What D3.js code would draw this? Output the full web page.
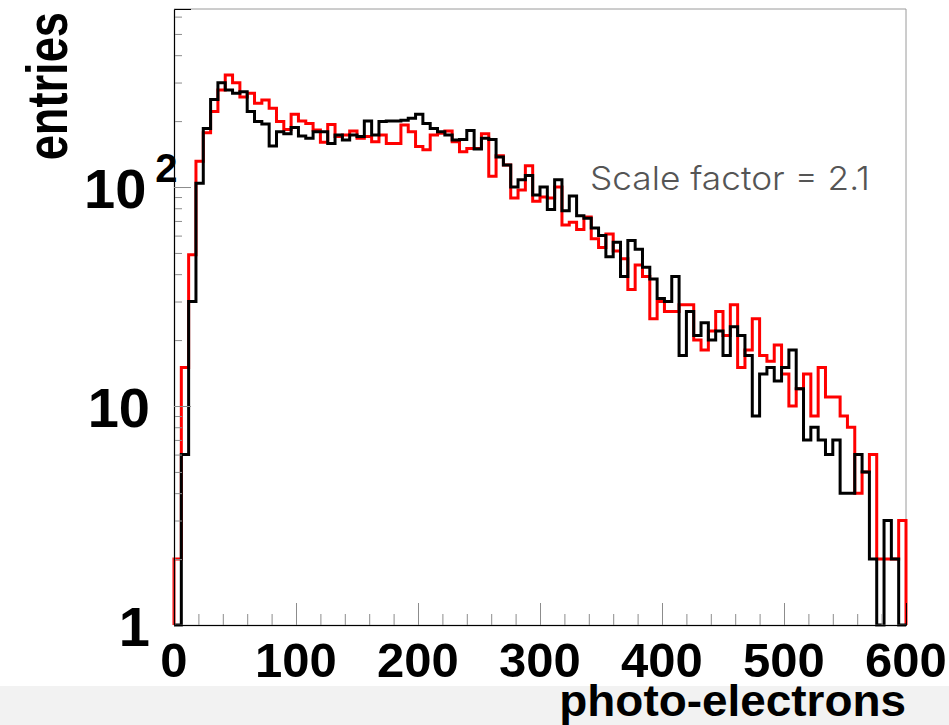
<!DOCTYPE html>
<html>
<head>
<meta charset="utf-8">
<script src="https://cdn.jsdelivr.net/npm/d3@7"></script>
<style>
  body { margin: 0; background: #fff; }
  svg { display: block; }
  .lbl { font-family: "Liberation Sans", Arial, Helvetica, sans-serif; font-weight: bold; fill: #000; }
</style>
</head>
<body>
<svg></svg>
<script>
// photo-electron spectrum, 100 bins of 6 p.e. from 0 to 600
const binEdges = d3.range(0, 601, 6);

// red histogram (scaled by 2.1)
const redCounts = [
  2, 15, 49, 131, 177, 221, 277, 325, 299, 258,
  268, 241, 250, 229, 199, 183, 215, 200, 195, 182,
  160, 193, 170, 173, 180, 167, 170, 161, 173, 158,
  158, 192, 179, 153, 148, 173, 176, 180, 161, 145,
  150, 150, 175, 112, 139, 126, 89, 97, 125, 86,
  90, 89, 100, 67, 69, 64, 73, 58, 53, 61,
  51, 47, 34, 44, 39, 25, 30, 27, 27, 29,
  29, 20, 18, 22, 27, 21, 29, 15, 18, 25,
  17, 16, 19, 14, 10, 12, 14, 9, 15, 11,
  11, 9, 8, 4, 5, 6, 2, 2, 2, 3
];

// black histogram
const blackCounts = [
  0, 6, 30, 104, 185, 251, 299, 277, 268, 272,
  221, 199, 194, 154, 179, 175, 187, 171, 167, 179,
  179, 158, 173, 164, 173, 170, 200, 173, 199, 200,
  200, 202, 206, 215, 195, 185, 179, 173, 164, 165,
  181, 149, 167, 165, 137, 126, 100, 108, 113, 92,
  100, 79, 108, 78, 91, 74, 72, 65, 60, 48,
  56, 39, 57, 52, 43, 38, 31, 30, 39, 17,
  27, 21, 24, 20, 22, 17, 23, 21, 17, 9,
  14, 15, 13, 15, 18, 12, 7, 8, 7, 6,
  7, 4, 4, 6, 5, 2, 0, 3, 2, 0
];

const xMajor = [0, 100, 200, 300, 400, 500, 600];
const xMinor = d3.range(20, 600, 20).filter(v => v % 100 !== 0);
const yMajor = [1, 10, 100];
const yMinor = [2, 3, 4, 5, 6, 7, 8, 9, 20, 30, 40, 50, 60, 70, 80, 90, 200, 300, 400, 500, 600];

const width = 949;
const height = 725;

const svg = d3.select("svg")
    .attr("width", width)
    .attr("height", height);

// light band at the bottom of the canvas
svg.append("rect")
    .attr("x", 0).attr("y", 686)
    .attr("width", width).attr("height", height - 686)
    .attr("fill", "#f2f2f2");

const x = d3.scaleLinear().domain([0, 600]).range([174, 906]);
const y = d3.scaleLog().domain([1, 650]).range([625, 9]);

// frame top / right
svg.append("line").attr("x1", 174).attr("x2", 906).attr("y1", 9).attr("y2", 9)
    .attr("stroke", "#9a9a9a").attr("stroke-width", 1);
svg.append("line").attr("x1", 906).attr("x2", 906).attr("y1", 9).attr("y2", 625)
    .attr("stroke", "#9a9a9a").attr("stroke-width", 1);

// histograms as steps
function steps(counts) {
  const pts = [[0, 0]];
  counts.forEach((c, i) => {
    pts.push([binEdges[i], c]);
    pts.push([binEdges[i + 1], c]);
  });
  pts.push([600, 0]);
  return pts;
}

const line = d3.line()
    .x(d => x(d[0]))
    .y(d => y(Math.max(d[1], 1)));

svg.append("path")
    .datum(steps(redCounts))
    .attr("d", line)
    .attr("fill", "none")
    .attr("stroke", "#ff0000")
    .attr("stroke-width", 3);

svg.append("path")
    .datum(steps(blackCounts))
    .attr("d", line)
    .attr("fill", "none")
    .attr("stroke", "#000")
    .attr("stroke-width", 3);

// x axis
const gx = svg.append("g").attr("transform", "translate(0,625)");
gx.call(d3.axisBottom(x).tickValues(xMinor).tickSize(-11).tickSizeOuter(0).tickFormat(""));
gx.call(g => g.append("g").call(d3.axisBottom(x).tickValues(xMajor.slice(1, -1)).tickSize(-22).tickFormat("")));
gx.selectAll("line").attr("stroke", "#8c8c8c");
gx.select(".domain").attr("stroke", "#8c8c8c").attr("stroke-width", 1.5);

svg.selectAll(".xl")
    .data(xMajor)
    .enter().append("text")
    .attr("class", "lbl")
    .attr("x", d => x(d))
    .attr("y", 677)
    .attr("text-anchor", "middle")
    .attr("font-size", 49)
    .text(d => d);

// y axis
const gy = svg.append("g").attr("transform", "translate(174,0)");
gy.call(d3.axisLeft(y).tickValues(yMinor).tickSize(-8).tickSizeOuter(0).tickFormat(""));
gy.call(g => g.append("g").call(d3.axisLeft(y).tickValues(yMajor.slice(1)).tickSize(-17).tickFormat("")));
gy.selectAll("line").attr("stroke", "#8c8c8c");
gy.select(".domain").attr("stroke", "#8c8c8c").attr("stroke-width", 1.5);

const yl = svg.selectAll(".yl")
    .data(yMajor)
    .enter().append("text")
    .attr("class", "lbl")
    .attr("font-size", 56)
    .attr("y", d => y(d) + 21);

yl.filter(d => d !== 100)
    .attr("x", 150)
    .attr("text-anchor", "end")
    .text(d => d);

yl.filter(d => d === 100)
    .attr("x", 84)
    .attr("text-anchor", "start")
    .text("10")
    .append("tspan")
    .attr("dx", 9)
    .attr("dy", -26)
    .attr("font-size", 40)
    .text("2");

// axis titles
svg.append("text")
    .attr("class", "lbl")
    .attr("transform", "translate(906,716) scale(1.02,1)")
    .attr("text-anchor", "end")
    .attr("font-size", 45)
    .text("photo-electrons");

// squeezed along its length like the original
svg.append("text")
    .attr("class", "lbl")
    .attr("transform", "translate(67,12) rotate(-90) scale(0.78,1)")
    .attr("text-anchor", "end")
    .attr("font-size", 58)
    .text("entries");

svg.append("text")
    .attr("x", 590).attr("y", 190)
    .attr("font-family", "Inter, Lato, 'DejaVu Sans', sans-serif")
    .attr("font-weight", 300)
    .attr("font-size", 33)
    .attr("textLength", 280)
    .attr("lengthAdjust", "spacingAndGlyphs")
    .attr("fill", "#555")
    .text("Scale factor = 2.1");
</script>
</body>
</html>
